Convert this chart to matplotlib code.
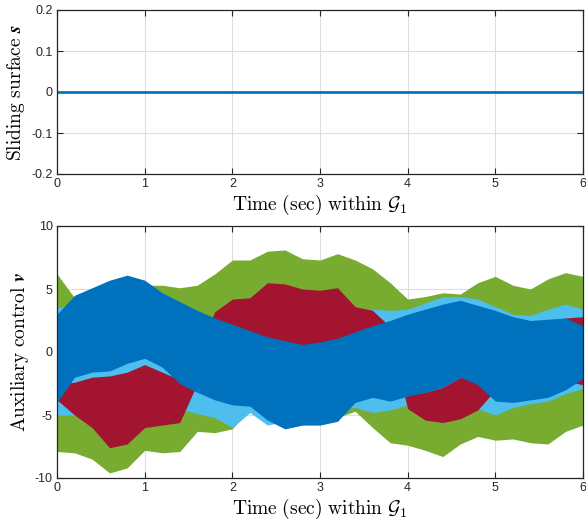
import numpy as np
import matplotlib
matplotlib.use("Agg")
import matplotlib.pyplot as plt

plt.rcParams['mathtext.fontset'] = 'cm'
plt.rcParams['font.family'] = ['Liberation Sans', 'DejaVu Sans']

# time grid (sec)
t = [0.0, 0.2, 0.4, 0.6, 0.8, 1.0, 1.2, 1.4, 1.6, 1.8, 2.0, 2.2, 2.4, 2.6, 2.8, 3.0,
     3.2, 3.4, 3.6, 3.8, 4.0, 4.2, 4.4, 4.6, 4.8, 5.0, 5.2, 5.4, 5.6, 5.8, 6.0]

# envelopes (upper / lower) of the chattering auxiliary control signals v
green_up = [6.2, 4.3, 4.5, 4.8, 5.0, 5.3, 5.3, 5.1, 5.3, 6.2, 7.3, 7.3, 8.0, 8.1, 7.4, 7.3,
            7.8, 7.3, 6.6, 5.5, 4.2, 4.4, 4.7, 4.6, 5.5, 6.0, 5.3, 5.0, 5.8, 6.3, 6.0]
green_lo = [-7.9, -8.0, -8.5, -9.6, -9.2, -7.8, -8.0, -7.9, -6.3, -6.4, -6.1, -4.5, -4.5, -5.0, -5.0, -5.0,
            -5.2, -4.7, -6.0, -7.2, -7.4, -7.8, -8.3, -7.3, -6.7, -7.0, -6.9, -7.2, -7.3, -6.3, -5.8]
lblue_up = [3.5, 3.8, 4.0, 4.2, 4.3, 4.0, 3.8, 3.4, 3.0, 2.5, 2.0, 1.5, 1.0, 0.7, 0.5, 0.8,
            1.5, 2.8, 3.4, 3.3, 3.4, 3.9, 4.4, 4.4, 4.2, 3.6, 3.0, 2.9, 3.4, 3.8, 3.4]
lblue_lo = [-5.0, -5.0, -4.5, -4.5, -4.0, -3.5, -3.8, -4.5, -4.9, -5.2, -6.0, -4.8, -5.8, -5.5, -5.2, -5.3,
            -4.5, -4.4, -4.8, -4.6, -4.2, -4.0, -3.8, -3.5, -4.5, -5.0, -4.4, -4.1, -3.9, -3.3, -2.9]
red_up = [-2.6, -2.4, -2.0, -1.9, -1.6, -1.0, -1.6, -2.2, 0.0, 3.2, 4.2, 4.3, 5.5, 5.4, 5.0, 4.9,
          5.1, 3.6, 3.3, 2.0, -3.4, -3.2, -2.8, -2.0, -2.3, -1.0, 0.0, 1.0, 2.0, 2.7, 2.8]
red_lo = [-3.8, -5.0, -6.0, -7.6, -7.3, -6.0, -5.8, -5.6, -2.5, 1.5, 1.5, 0.5, 0.3, 0.2, 0.2, 0.4,
          0.6, 0.8, 1.5, 1.0, -4.5, -5.4, -5.6, -5.3, -4.6, -3.0, -2.0, -1.5, -1.5, -2.3, -2.6]
blue_up = [3.0, 4.5, 5.1, 5.7, 6.1, 5.7, 4.7, 4.0, 3.3, 2.7, 2.2, 1.7, 1.2, 0.9, 0.6, 0.8,
           1.1, 1.6, 2.1, 2.5, 3.0, 3.4, 3.8, 4.1, 3.7, 3.3, 2.8, 2.5, 2.6, 2.7, 2.1]
blue_lo = [-4.0, -2.0, -1.6, -1.5, -0.9, -0.5, -1.2, -2.5, -3.2, -3.8, -4.2, -4.3, -5.4, -6.1, -5.8, -5.8,
           -5.5, -4.0, -3.6, -3.9, -3.5, -3.2, -2.8, -2.0, -2.6, -3.9, -4.0, -3.8, -3.6, -3.0, -2.1]

# sliding surface s (stays at zero)
s_t = [0.0, 6.0]
s_vals = [0.0, 0.0]

x_ticks = [0, 1, 2, 3, 4, 5, 6]
s_ticks = [-0.2, -0.1, 0.0, 0.1, 0.2]
s_ticklabels = ['-0.2', '-0.1', '0', '0.1', '0.2']
v_ticks = [-10, -5, 0, 5, 10]
v_ticklabels = ['-10', '-5', '0', '5', '10']

c_green = '#77AC30'
c_lblue = '#4DBEEE'
c_red = '#A2142F'
c_blue = '#0072BD'

fig = plt.figure(figsize=(5.86, 5.25), dpi=100)
ax1 = fig.add_axes([57/586, 1-174/525, 526/586, 164/525])
ax2 = fig.add_axes([57/586, 1-478/525, 526/586, 252/525])

edge = '#262626'
for ax in (ax1, ax2):
    ax.set_xlim(0, 6)
    ax.set_xticks(x_ticks)
    ax.set_xticklabels([str(x) for x in x_ticks])
    ax.grid(True, color='#dedede', linewidth=0.8)
    ax.set_axisbelow(True)
    ax.tick_params(direction='in', top=True, right=True, length=4, width=0.8,
                   labelsize=9, colors=edge, pad=3)
    for sp in ax.spines.values():
        sp.set_color(edge)
        sp.set_linewidth(0.9)
    ax.set_xlabel(r'$\mathrm{Time\ (sec)\ within\ }\mathcal{G}_1$', fontsize=14, labelpad=2)

# top: sliding surface
for c in (c_green, c_lblue, c_red):
    ax1.plot(s_t, s_vals, color=c, linewidth=1.0)
ax1.plot(s_t, s_vals, color=c_blue, linewidth=1.8)
ax1.set_ylim(-0.2, 0.2)
ax1.set_yticks(s_ticks)
ax1.set_yticklabels(s_ticklabels)
ax1.set_ylabel(r'$\mathrm{Sliding\ surface\ }\mathbfit{s}$', fontsize=14, labelpad=3)

# bottom: auxiliary control
ax2.fill_between(t, green_lo, green_up, color=c_green, linewidth=0)
ax2.fill_between(t, lblue_lo, lblue_up, color=c_lblue, linewidth=0)
ax2.fill_between(t, red_lo, red_up, color=c_red, linewidth=0)
ax2.fill_between(t, blue_lo, blue_up, color=c_blue, linewidth=0)
ax2.set_ylim(-10, 10)
ax2.set_yticks(v_ticks)
ax2.set_yticklabels(v_ticklabels)
ax2.set_ylabel(r'$\mathrm{Auxiliary\ control\ }\mathbfit{v}$', fontsize=14, labelpad=3)

fig.savefig('out.png', dpi=100)
